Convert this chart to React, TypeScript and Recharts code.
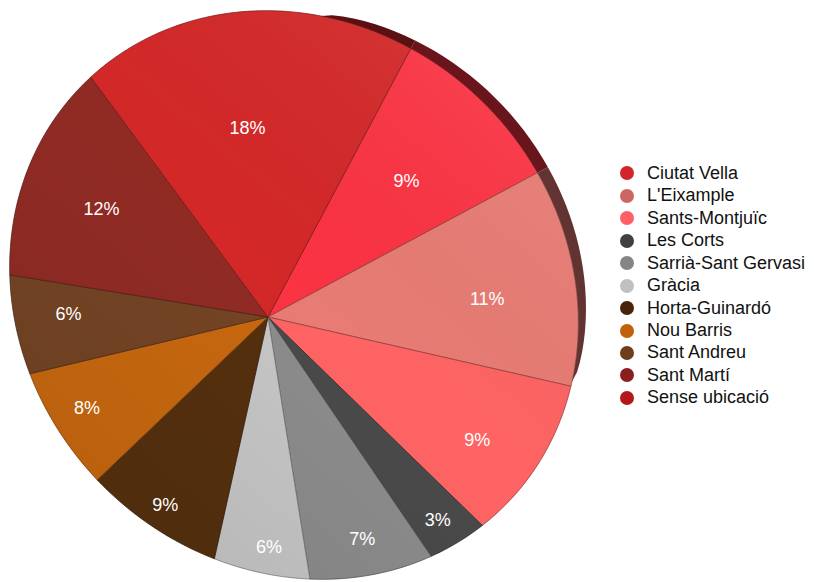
import React from "react";
import { PieChart, Pie, Cell, Legend } from "recharts";

// Districts and their share of the total (%)
const districts = [
  "Ciutat Vella",
  "L'Eixample",
  "Sants-Montjuïc",
  "Les Corts",
  "Sarrià-Sant Gervasi",
  "Gràcia",
  "Horta-Guinardó",
  "Nou Barris",
  "Sant Andreu",
  "Sant Martí",
  "Sense ubicació",
];
const shares = [9.4, 11.4, 8.7, 3.2, 7.0, 6.0, 9.4, 8.4, 6.3, 12.3, 17.9];

const legendColors = [
  "#d2232e", "#cc6660", "#ff5f65", "#404040", "#858585", "#c0c0c0",
  "#4a2408", "#c0600a", "#6e3e1e", "#8a1e1e", "#b51818",
];
const faceColors = [
  "#fb3343", "#e87c74", "#ff6464", "#4a4a4a", "#8c8c8c", "#c6c6c6",
  "#55300e", "#c8680f", "#744424", "#902b24", "#d42828",
];

const data = districts.map((name, i) => ({ name, value: shares[i] }));

const FONT = '"Liberation Sans", Arial, Helvetica, sans-serif';
const RAD = Math.PI / 180;
const S = Math.SQRT1_2;

// tilted pie: the top face is an ellipse whose long axis runs NW-SE
const OUTLINE = { cx: 294, cy: 295, a: 298, b: 270 };
// visible side band on the upper right
const SIDE_FROM = 80;
const SIDE_TO = -12;
const SIDE_DEPTH = 12;

function rayLength(px: number, py: number, deg: number) {
  const dx = Math.cos(deg * RAD);
  const dy = -Math.sin(deg * RAD);
  const qx = px - OUTLINE.cx;
  const qy = py - OUTLINE.cy;
  const du = (dx + dy) * S;
  const dv = (dx - dy) * S;
  const qu = (qx + qy) * S;
  const qv = (qx - qy) * S;
  const a2 = OUTLINE.a * OUTLINE.a;
  const b2 = OUTLINE.b * OUTLINE.b;
  const A = (du * du) / a2 + (dv * dv) / b2;
  const B = 2 * ((qu * du) / a2 + (qv * dv) / b2);
  const C = (qu * qu) / a2 + (qv * qv) / b2 - 1;
  return (-B + Math.sqrt(B * B - 4 * A * C)) / (2 * A);
}

function at(px: number, py: number, deg: number, t: number) {
  return [px + Math.cos(deg * RAD) * t, py - Math.sin(deg * RAD) * t];
}

function darken(hex: string, k: number) {
  const n = parseInt(hex.slice(1), 16);
  const r = Math.round(((n >> 16) & 255) * k);
  const g = Math.round(((n >> 8) & 255) * k);
  const b = Math.round((n & 255) * k);
  return `rgb(${r},${g},${b})`;
}

const toPath = (pts: number[][]) => pts.map((p) => `${p[0].toFixed(2)},${p[1].toFixed(2)}`).join(" L");

function SliceShape(props: any) {
  const { cx, cy, startAngle, endAngle, fill } = props;
  const steps = Math.max(2, Math.ceil(Math.abs(endAngle - startAngle) / 2));
  const pts: number[][] = [];
  for (let i = 0; i <= steps; i++) {
    const deg = startAngle + ((endAngle - startAngle) * i) / steps;
    pts.push(at(cx, cy, deg, rayLength(cx, cy, deg)));
  }
  const face = `M${cx},${cy} L${toPath(pts)} Z`;

  // side band, with the sector's angles brought into the same turn as the band
  let side = "";
  let a0 = Math.min(startAngle, endAngle);
  let a1 = Math.max(startAngle, endAngle);
  while (a1 < SIDE_TO) {
    a0 += 360;
    a1 += 360;
  }
  const hi = Math.min(a1, SIDE_FROM);
  const lo = Math.max(a0, SIDE_TO);
  if (hi > lo) {
    const n = Math.max(2, Math.ceil((hi - lo) / 2));
    const inner: number[][] = [];
    const outer: number[][] = [];
    for (let i = 0; i <= n; i++) {
      const deg = hi - ((hi - lo) * i) / n;
      const t = rayLength(cx, cy, deg);
      const w =
        SIDE_DEPTH *
        Math.pow(Math.sin((Math.PI * (SIDE_FROM - deg)) / (SIDE_FROM - SIDE_TO)), 0.5);
      inner.push(at(cx, cy, deg, t - 0.5));
      outer.push(at(cx, cy, deg, t + w));
    }
    side = `M${toPath(inner)} L${toPath(outer.reverse())} Z`;
  }

  return (
    <g>
      {side && <path d={side} fill={darken(fill, 0.42)} />}
      <path d={face} fill={fill} stroke={darken(fill, 0.55)} strokeOpacity={0.7} strokeWidth={1} />
      <path d={face} fill="url(#pie-sheen)" />
    </g>
  );
}

// labels sit further out on the near (lower) side of the tilted disc,
// and thin slices push theirs toward the rim
function renderLabel(props: any) {
  const { cx, cy, midAngle, percent } = props;
  const deg = midAngle - 2.5 * Math.cos(2 * midAngle * RAD) - 0.5;
  const t = rayLength(cx, cy, deg);
  const f =
    (0.755 + 0.14 * Math.cos((deg + 80) * RAD)) *
    (1 - 0.075 * Math.cos(deg * RAD)) *
    (1 + Math.max(0, 0.06 - percent) * 2.7);
  const [x, y] = at(cx, cy, deg, t * f);
  return (
    <text
      x={x}
      y={y}
      fill="#ffffff"
      textAnchor="middle"
      dominantBaseline="central"
      fontSize={18}
      fontFamily={FONT}
    >
      {`${Math.round(percent * 100)}%`}
    </text>
  );
}

function renderLegend() {
  return (
    <div style={{ fontFamily: FONT, fontSize: 18, color: "#111" }}>
      {districts.map((name, i) => (
        <div key={name} style={{ display: "flex", alignItems: "center", height: 22.47 }}>
          <span
            style={{
              display: "inline-block",
              width: 14,
              height: 14,
              borderRadius: 7,
              marginLeft: 2,
              marginRight: 13,
              background: legendColors[i],
            }}
          />
          <span>{name}</span>
        </div>
      ))}
    </div>
  );
}

export default function App() {
  return (
    <div style={{ width: 814, height: 582, background: "#fff" }}>
      <style>{"body{margin:0}"}</style>
      <PieChart width={814} height={582} margin={{ top: 0, right: 0, bottom: 0, left: 0 }}>
        <defs>
          <linearGradient id="pie-sheen" gradientUnits="userSpaceOnUse" x1={100} y1={560} x2={520} y2={60}>
            <stop offset="0%" stopColor="#000" stopOpacity={0.08} />
            <stop offset="50%" stopColor="#000" stopOpacity={0} />
            <stop offset="100%" stopColor="#fff" stopOpacity={0.08} />
          </linearGradient>
        </defs>
        <Pie
          data={data}
          dataKey="value"
          nameKey="name"
          cx={268}
          cy={317}
          outerRadius={280}
          startAngle={62}
          endAngle={-298}
          stroke="none"
          shape={SliceShape}
          label={renderLabel}
          labelLine={false}
          isAnimationActive={false}
        >
          {data.map((d, i) => (
            <Cell key={d.name} fill={faceColors[i]} />
          ))}
        </Pie>
        <Legend
          layout="vertical"
          align="right"
          verticalAlign="top"
          content={renderLegend}
          wrapperStyle={{ left: 618, top: 162, width: 196 }}
        />
      </PieChart>
    </div>
  );
}
